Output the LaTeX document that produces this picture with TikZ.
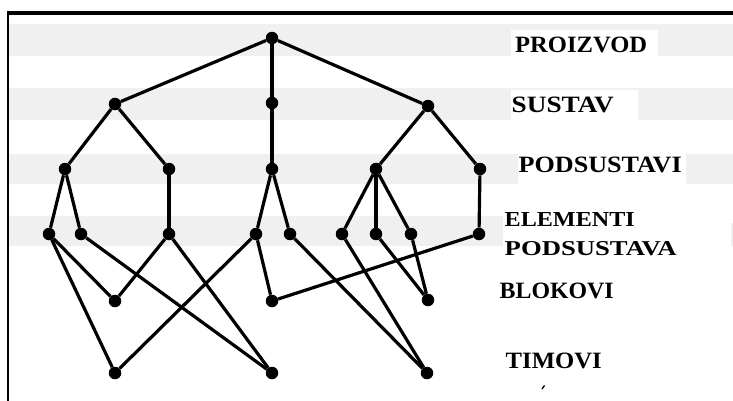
\documentclass[tikz,border=0pt]{standalone}
\usepackage{fontspec}
\setmainfont{Liberation Serif}
\usepackage{graphicx}
\definecolor{band}{HTML}{F0F0F0}
\begin{document}
\begin{tikzpicture}[x=1pt,y=-1pt,
  dot/.style={circle,fill=black,inner sep=0pt,minimum size=12.5pt},
  edge/.style={line width=3.2pt},
  lbl/.style={anchor=base west,inner sep=0pt,font=\bfseries}]
\useasboundingbox (0,0) rectangle (733,401);
\fill[white] (0,0) rectangle (733,401);
% background bands
\fill[band] (9,24) rectangle (733,56);
\fill[band] (9,88) rectangle (733,120);
\fill[band] (9,154) rectangle (733,184);
\fill[band] (9,216) rectangle (503,246);
\fill[band] (731,223) rectangle (733,246);
\fill[white] (511,30) rectangle (658,56);
\fill[white] (511,90) rectangle (638,120);
\fill[white] (518,154) rectangle (686,184);
% frame
\draw[line width=3.2pt] (6.8,13) -- (733,13);
\draw[line width=2.6pt] (8,11.5) -- (8,401);
% nodes
\node[dot] (p)  at (272,38) {};
\node[dot] (s1) at (115,104) {};
\node[dot] (s2) at (272,103) {};
\node[dot] (s3) at (428,106) {};
\node[dot] (a)  at (65,169) {};
\node[dot] (b)  at (169,169) {};
\node[dot] (c)  at (272,169) {};
\node[dot] (d)  at (376,169) {};
\node[dot] (e)  at (480,169) {};
\node[dot] (e1) at (49,234) {};
\node[dot] (e2) at (81,234) {};
\node[dot] (e3) at (169,234) {};
\node[dot] (e4) at (256,234) {};
\node[dot] (e5) at (290,234) {};
\node[dot] (e6) at (342,234) {};
\node[dot] (e7) at (376,234) {};
\node[dot] (e8) at (411,234) {};
\node[dot] (e9) at (479,234) {};
\node[dot] (b1) at (115,301) {};
\node[dot] (b2) at (272,301) {};
\node[dot] (b3) at (428,300) {};
\node[dot] (t1) at (115,373) {};
\node[dot] (t2) at (272,373) {};
\node[dot] (t3) at (427,373) {};
% edges
\draw[edge] (p) -- (s1);
\draw[edge] (p) -- (s2);
\draw[edge] (p) -- (s3);
\draw[edge] (s1) -- (a);
\draw[edge] (s1) -- (b);
\draw[edge] (s2) -- (c);
\draw[edge] (s3) -- (d);
\draw[edge] (s3) -- (e);
\draw[edge] (a) -- (e1);
\draw[edge] (a) -- (e2);
\draw[edge] (b) -- (e3);
\draw[edge] (c) -- (e4);
\draw[edge] (c) -- (e5);
\draw[edge] (d) -- (e6);
\draw[edge] (d) -- (e7);
\draw[edge] (d) -- (e8);
\draw[edge] (e) -- (e9);
\draw[edge] (e1) -- (b1);
\draw[edge] (e1) -- (t1);
\draw[edge] (e2) -- (t2);
\draw[edge] (e3) -- (b1);
\draw[edge] (e3) -- (t2);
\draw[edge] (e4) -- (t1);
\draw[edge] (e4) -- (b2);
\draw[edge] (b2) -- (e9);
\draw[edge] (e5) -- (t3);
\draw[edge] (e6) -- (t3);
\draw[edge] (e7) -- (b3);
\draw[edge] (e8) -- (b3);
% labels
\node[lbl] (l1) at (515,52.5) {\resizebox{132pt}{15.5pt}{PROIZVOD}};
\node[lbl] (l2) at (511.5,112.5) {\resizebox{102pt}{15.5pt}{SUSTAV}};
\node[lbl] (l3) at (518.5,172.5) {\resizebox{163pt}{15.5pt}{PODSUSTAVI}};
\node[lbl] (l4) at (504.5,226.5) {\resizebox{130pt}{14pt}{ELEMENTI}};
\node[lbl] (l5) at (504.5,255.5) {\resizebox{172pt}{14pt}{PODSUSTAVA}};
\node[lbl] (l6) at (499.5,298.5) {\resizebox{114pt}{15.5pt}{BLOKOVI}};
\node[lbl] (l7) at (505.5,368.5) {\resizebox{96pt}{15.5pt}{TIMOVI}};
% small stray mark
\draw[line width=1.3pt] (542,389) -- (544.5,385.5);
\end{tikzpicture}
\end{document}
